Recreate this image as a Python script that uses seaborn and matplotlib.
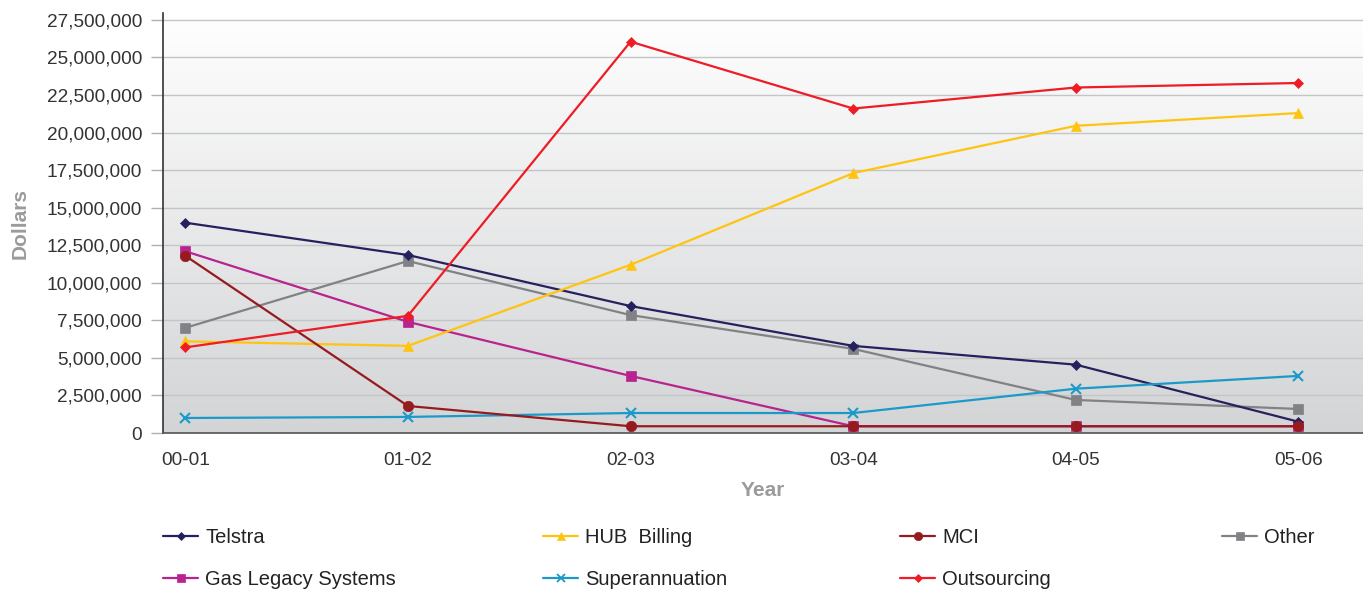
import numpy as np
import pandas as pd
import matplotlib
matplotlib.use("Agg")
import matplotlib.pyplot as plt
from matplotlib.ticker import FuncFormatter
from matplotlib.lines import Line2D
import seaborn as sns

years = ["00-01", "01-02", "02-03", "03-04", "04-05", "05-06"]

telstra = [14.0, 11.85, 8.45, 5.8, 4.55, 0.75]
hub_billing = [6.1, 5.8, 11.2, 17.3, 20.45, 21.3]
mci = [11.8, 1.8, 0.45, 0.45, 0.45, 0.45]
other = [7.0, 11.45, 7.85, 5.6, 2.2, 1.6]
gas_legacy = [12.1, 7.4, 3.8, 0.45, 0.45, 0.45]
superannuation = [1.0, 1.07, 1.33, 1.33, 2.95, 3.8]
outsourcing = [5.7, 7.8, 26.05, 21.6, 23.0, 23.3]

series = {
    "Gas Legacy Systems": gas_legacy,
    "Other": other,
    "Telstra": telstra,
    "HUB  Billing": hub_billing,
    "Superannuation": superannuation,
    "MCI": mci,
    "Outsourcing": outsourcing,
}
colors = {
    "Telstra": "#25215e",
    "HUB  Billing": "#ffc40f",
    "MCI": "#961b1e",
    "Other": "#808285",
    "Gas Legacy Systems": "#b8238f",
    "Superannuation": "#1b9ac9",
    "Outsourcing": "#ee1c25",
}
markers = {
    "Telstra": "D",
    "HUB  Billing": "^",
    "MCI": "o",
    "Other": "s",
    "Gas Legacy Systems": "s",
    "Superannuation": "x",
    "Outsourcing": "D",
}
msize = {"D": 5.5, "^": 7.5, "o": 7.5, "s": 7, "x": 7.5}

rows = []
for name, vals in series.items():
    for yr, v in zip(years, vals):
        rows.append({"Year": yr, "Dollars": v * 1e6, "Series": name})
df = pd.DataFrame(rows)

sns.set_style("white")
plt.rcParams["font.family"] = ["Liberation Sans", "DejaVu Sans"]

fig = plt.figure(figsize=(13.63, 5.89), dpi=100)
ax = fig.add_axes([163 / 1363, 1 - 433 / 589, 1 - 163 / 1363, (433 - 13) / 589])

# gradient background
grad = np.linspace(0, 1, 256).reshape(-1, 1)
cmap = matplotlib.colors.LinearSegmentedColormap.from_list("bg", ["#d3d4d6", "#ffffff"])
ax.imshow(grad, extent=[0, 1, 0, 1], transform=ax.transAxes, cmap=cmap,
          aspect="auto", origin="lower", zorder=0)

for name in series:
    sub = df[df["Series"] == name]
    m = markers[name]
    sns.lineplot(data=sub, x="Year", y="Dollars", color=colors[name], marker=m,
                 markersize=msize[m], markeredgecolor=colors[name],
                 markeredgewidth=1.5 if m == "x" else 0.5, linewidth=1.6,
                 ax=ax, zorder=3, sort=False)

ax.set_xlim(-0.1, 5.29)
ax.set_ylim(0, 27.96e6)
ax.set_yticks(np.arange(0, 27.5e6 + 1, 2.5e6))
ax.yaxis.set_major_formatter(FuncFormatter(lambda v, p: f"{int(v):,}"))
ax.grid(axis="y", color="#c4c5c7", linewidth=1, zorder=1)
ax.set_axisbelow(True)

for s in ["top", "right"]:
    ax.spines[s].set_visible(False)
ax.spines["left"].set_color("#333333")
ax.spines["left"].set_linewidth(1.2)
ax.spines["bottom"].set_color("#555555")
ax.spines["bottom"].set_linewidth(1.2)

ax.tick_params(axis="y", length=9, width=1, color="#b0b0b0", labelsize=13.7,
               labelcolor="#333333", pad=6, left=True)
ax.tick_params(axis="x", length=0, labelsize=13.7, labelcolor="#333333", pad=14)

ax.set_xlabel("Year", fontsize=15, fontweight="bold", color="#9b9b9b", labelpad=8)
ax.set_ylabel("Dollars", fontsize=15, fontweight="bold", color="#9b9b9b", labelpad=12)

# legend: one small legend per column
columns = [["Telstra", "Gas Legacy Systems"], ["HUB  Billing", "Superannuation"],
           ["MCI", "Outsourcing"], ["Other"]]
col_x = [163, 543, 900, 1222]
for names, x0 in zip(columns, col_x):
    handles = [Line2D([], [], color=colors[n], marker=markers[n],
                      markersize=msize[markers[n]] - 1.5, markeredgecolor=colors[n],
                      markeredgewidth=1.3 if markers[n] == "x" else 0.5,
                      linewidth=1.6) for n in names]
    leg = fig.legend(handles, names, loc="upper left",
                     bbox_to_anchor=(x0 / 1363, 1 - 528 / 589), frameon=False,
                     fontsize=14.5, handlelength=1.75, handletextpad=0.35,
                     borderpad=0, borderaxespad=0, labelspacing=1.15,
                     labelcolor="#222222")

fig.savefig("out.png", dpi=100)
